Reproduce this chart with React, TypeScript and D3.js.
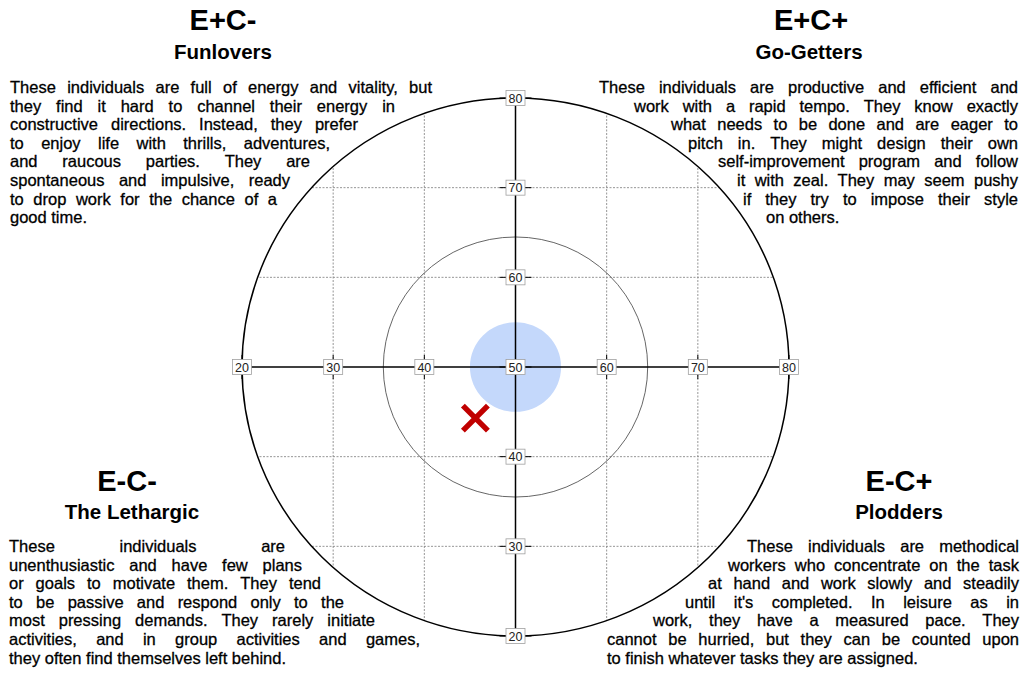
import React, { useMemo } from "react";
import * as d3 from "d3";

// ---------- data ----------
const axisTicks = [20, 30, 40, 50, 60, 70, 80];
const gridValues = [30, 40, 60, 70];
const outerRing = 30; // radius in scale units
const middleRing = 14.5;
const targetRadius = 5;
const markerX = [45.6];
const markerY = [44.3];

const quadrantCodes = ["E+C-", "E+C+", "E-C-", "E-C+"];
const quadrantNames = ["Funlovers", "Go-Getters", "The Lethargic", "Plodders"];
const funloversText = [
  "These individuals are full of energy and vitality, but",
  "they find it hard to channel their energy in",
  "constructive directions. Instead, they prefer",
  "to enjoy life with thrills, adventures,",
  "and raucous parties. They are",
  "spontaneous and impulsive, ready",
  "to drop work for the chance of a",
  "good time.",
];
const goGettersText = [
  "These individuals are productive and efficient and",
  "work with a rapid tempo. They know exactly",
  "what needs to be done and are eager to",
  "pitch in. They might design their own",
  "self-improvement program and follow",
  "it with zeal. They may seem pushy",
  "if they try to impose their style",
  "on others.",
];
const lethargicText = [
  "These individuals are",
  "unenthusiastic and have few plans",
  "or goals to motivate them. They tend",
  "to be passive and respond only to the",
  "most pressing demands. They rarely initiate",
  "activities, and in group activities and games,",
  "they often find themselves left behind.",
];
const ploddersText = [
  "These individuals are methodical",
  "workers who concentrate on the task",
  "at hand and work slowly and steadily",
  "until it's completed. In leisure as in",
  "work, they have a measured pace. They",
  "cannot be hurried, but they can be counted upon",
  "to finish whatever tasks they are assigned.",
];
const quadrantTexts = [funloversText, goGettersText, lethargicText, ploddersText];

// ---------- layout ----------
const W = 1024;
const H = 673;
const FONT = "'Liberation Sans', Arial, Helvetica, sans-serif";
const BODY_SIZE = 16.5;
const LINE_H = 18.6;

const quadrantLayout = [
  { tx: 223, ty: 30, sx: 223, sy: 59, by: 93,
    edges: [[10, 432], [10, 395], [10, 358], [10, 330], [10, 310], [10, 290], [10, 277], [10, 0]] },
  { tx: 811, ty: 30, sx: 809, sy: 59, by: 93,
    edges: [[599, 1018], [634, 1018], [671, 1018], [688, 1018], [718, 1018], [737, 1018], [743, 1018], [766, 0]] },
  { tx: 127, ty: 491, sx: 132, sy: 519, by: 552,
    edges: [[9, 285], [9, 302], [9, 321], [9, 344], [9, 375], [9, 420], [9, 0]] },
  { tx: 899, ty: 491, sx: 899, sy: 519, by: 552,
    edges: [[747, 1019], [728, 1019], [708, 1019], [685, 1019], [653, 1019], [607, 1019], [607, 0]] },
];

let measureCtx: CanvasRenderingContext2D | null = null;
function textWidth(s: string, font: string) {
  if (!measureCtx) {
    const c = document.createElement("canvas");
    measureCtx = c.getContext("2d");
  }
  measureCtx!.font = font;
  return measureCtx!.measureText(s).width;
}

function JustifiedLine({ text, x0, x1, y, justify }: { text: string; x0: number; x1: number; y: number; justify: boolean }) {
  const font = `${BODY_SIZE}px ${FONT}`;
  const words = text.split(" ");
  const widths = words.map((w) => textWidth(w, font));
  const total = d3.sum(widths);
  let gap = textWidth(" ", font);
  if (justify && words.length > 1) gap = Math.max(1.5, (x1 - x0 - total) / (words.length - 1));
  let cx = x0;
  const xs = widths.map((w) => {
    const p = cx;
    cx += w + gap;
    return p;
  });
  return (
    <text y={y} fontFamily={FONT} fontSize={BODY_SIZE} fill="#000" stroke="#000" strokeWidth={0.3}>
      {words.map((w, i) => (
        <tspan key={i} x={xs[i]}>{w}</tspan>
      ))}
    </text>
  );
}

export default function App() {
  const x = d3.scaleLinear().domain([20, 80]).range([242, 789]);
  const y = d3.scaleLinear().domain([20, 80]).range([636, 98]);
  const cx = x(50);
  const cy = y(50);
  const rx = (r: number) => x(50 + r) - cx;
  const ry = (r: number) => cy - y(50 + r);

  const xLines = useMemo(() => gridValues, []);

  return (
    <svg width={W} height={H} style={{ position: "absolute", left: 0, top: 0, background: "#fff" }}>
      <defs>
        <clipPath id="ringClip">
          <ellipse cx={cx} cy={cy} rx={rx(outerRing)} ry={ry(outerRing)} />
        </clipPath>
      </defs>
      <rect width={W} height={H} fill="#fff" />

      {/* grid */}
      <g clipPath="url(#ringClip)" stroke="#8a8a8a" strokeWidth={0.9} strokeDasharray="2,1.5">
        {xLines.map((v) => (
          <line key={"gx" + v} x1={x(v)} x2={x(v)} y1={y(80)} y2={y(20)} />
        ))}
        {gridValues.map((v) => (
          <line key={"gy" + v} x1={x(20)} x2={x(80)} y1={y(v)} y2={y(v)} />
        ))}
      </g>

      {/* target */}
      <ellipse cx={cx} cy={cy} rx={rx(targetRadius)} ry={ry(targetRadius)} fill="#c4d8fb" />
      <ellipse cx={cx} cy={cy} rx={rx(middleRing)} ry={ry(middleRing)} fill="none" stroke="#555" strokeWidth={0.9} />
      <ellipse cx={cx} cy={cy} rx={rx(outerRing)} ry={ry(outerRing)} fill="none" stroke="#000" strokeWidth={1.5} />

      {/* axes */}
      <line x1={x(20)} x2={x(80)} y1={cy} y2={cy} stroke="#000" strokeWidth={1.5} />
      <line x1={cx} x2={cx} y1={y(80)} y2={y(20)} stroke="#000" strokeWidth={1.5} />
      {axisTicks.map((v) => (
        <g key={"tx" + v}>
          <line x1={x(v)} x2={x(v)} y1={cy - 12} y2={cy + 12} stroke="#000" strokeWidth={1} />
          <line x1={cx - 16} x2={cx + 16} y1={y(v)} y2={y(v)} stroke="#000" strokeWidth={1} />
        </g>
      ))}

      {/* marker */}
      {markerX.map((mx, i) => {
        const px = x(mx);
        const py = y(markerY[i]);
        const s = 12.5;
        return (
          <path
            key={"m" + i}
            d={`M${px - s},${py - s}L${px + s},${py + s}M${px - s},${py + s}L${px + s},${py - s}`}
            stroke="#c00000"
            strokeWidth={5.5}
            fill="none"
          />
        );
      })}

      {/* tick labels */}
      {axisTicks.map((v) => (
        <g key={"lx" + v}>
          <rect x={x(v) - 9.5} y={cy - 7.5} width={19} height={15} fill="#fff" stroke="#a0a0a0" strokeWidth={0.8} />
          <text x={x(v)} y={cy + 4.5} textAnchor="middle" fontFamily={FONT} fontSize={12.5} fill="#222">{v}</text>
        </g>
      ))}
      {axisTicks.filter((v) => v !== 50).map((v) => (
        <g key={"ly" + v}>
          <rect x={cx - 9.5} y={y(v) - 7.5} width={19} height={15} fill="#fff" stroke="#a0a0a0" strokeWidth={0.8} />
          <text x={cx} y={y(v) + 4.5} textAnchor="middle" fontFamily={FONT} fontSize={12.5} fill="#222">{v}</text>
        </g>
      ))}

      {/* quadrant texts */}
      {quadrantCodes.map((code, qi) => {
        const L = quadrantLayout[qi];
        const lines = quadrantTexts[qi];
        return (
          <g key={"q" + qi}>
            <text x={L.tx} y={L.ty} textAnchor="middle" fontFamily={FONT} fontWeight="bold" fontSize={29} fill="#000">{code}</text>
            <text x={L.sx} y={L.sy} textAnchor="middle" fontFamily={FONT} fontWeight="bold" fontSize={20.5} fill="#000">{quadrantNames[qi]}</text>
            {lines.map((ln, li) => (
              <JustifiedLine
                key={li}
                text={ln}
                x0={L.edges[li][0]}
                x1={L.edges[li][1]}
                y={L.by + li * LINE_H}
                justify={li < lines.length - 1}
              />
            ))}
          </g>
        );
      })}
    </svg>
  );
}
